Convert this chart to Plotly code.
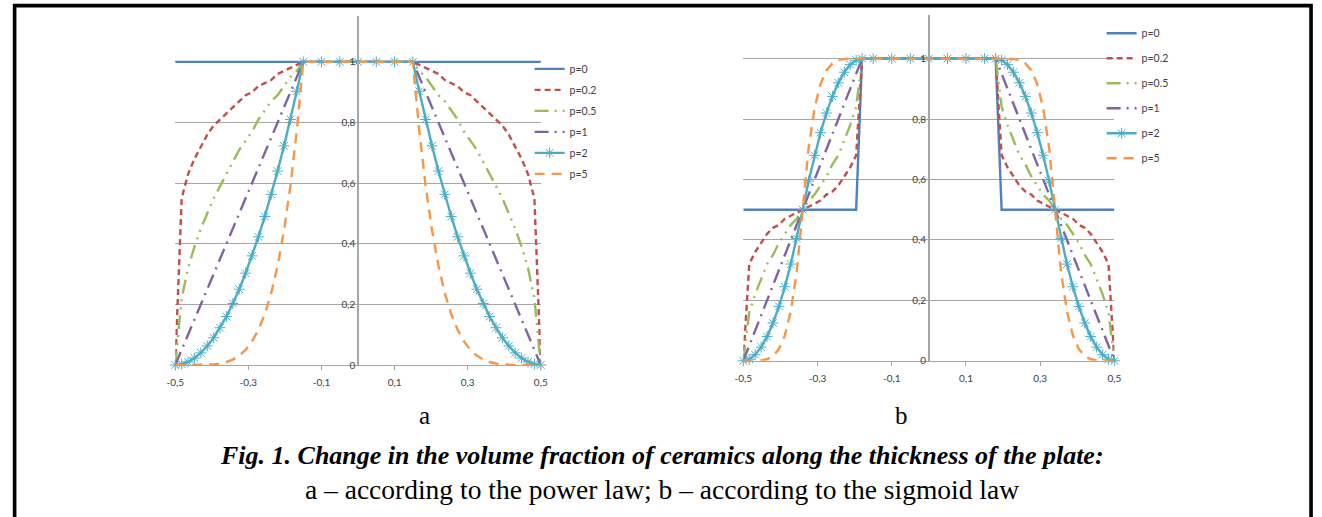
import plotly.graph_objects as go

# ---------------- data ----------------
series_names = ["p=0", "p=0.2", "p=0.5", "p=1", "p=2", "p=5"]

x_ticks = [-0.5, -0.3, -0.1, 0.1, 0.3, 0.5]
x_ticktext = ["-0,5", "-0,3", "-0,1", "0,1", "0,3", "0,5"]
y_ticks = [0, 0.2, 0.4, 0.6, 0.8, 1]
y_ticktext = ["0", "0,2", "0,4", "0,6", "0,8", "1"]

# panel a (power law)
x_a = [-0.5, -0.4825, -0.465, -0.4475, -0.43, -0.4125, -0.395, -0.3775, -0.36, -0.3425,
       -0.325, -0.3075, -0.29, -0.2725, -0.255, -0.2375, -0.22, -0.2025, -0.185, -0.1675,
       -0.15, -0.1, -0.05, 0, 0.05, 0.1,
       0.15, 0.1675, 0.185, 0.2025, 0.22, 0.2375, 0.255, 0.2725, 0.29, 0.3075,
       0.325, 0.3425, 0.36, 0.3775, 0.395, 0.4125, 0.43, 0.4475, 0.465, 0.4825, 0.5]
x_a_p0 = [-0.5, 0.5]
a_p0 = [1, 1]
a_p02 = [0, 0.55, 0.63, 0.68, 0.72, 0.76, 0.79, 0.81, 0.83, 0.85, 0.87, 0.89, 0.90, 0.92, 0.93,
         0.94, 0.96, 0.97, 0.98, 0.99, 1,
         1, 1, 1, 1, 1,
         1, 0.99, 0.98, 0.97, 0.96, 0.94, 0.93, 0.92, 0.90, 0.89, 0.87, 0.85, 0.83, 0.81, 0.79,
         0.76, 0.72, 0.68, 0.63, 0.55, 0]
a_p05 = [0, 0.22, 0.32, 0.39, 0.45, 0.50, 0.55, 0.59, 0.63, 0.67, 0.71, 0.74, 0.77, 0.81, 0.84,
         0.87, 0.89, 0.92, 0.95, 0.97, 1,
         1, 1, 1, 1, 1,
         1, 0.97, 0.95, 0.92, 0.89, 0.87, 0.84, 0.81, 0.77, 0.74, 0.71, 0.67, 0.63, 0.59, 0.55,
         0.50, 0.45, 0.39, 0.32, 0.22, 0]
a_p1 = [0, 0.05, 0.10, 0.15, 0.20, 0.25, 0.30, 0.35, 0.40, 0.45, 0.50, 0.55, 0.60, 0.65, 0.70,
        0.75, 0.80, 0.85, 0.90, 0.95, 1,
        1, 1, 1, 1, 1,
        1, 0.95, 0.90, 0.85, 0.80, 0.75, 0.70, 0.65, 0.60, 0.55, 0.50, 0.45, 0.40, 0.35, 0.30,
        0.25, 0.20, 0.15, 0.10, 0.05, 0]
a_p2 = [0, 0.003, 0.01, 0.023, 0.04, 0.063, 0.09, 0.123, 0.16, 0.203, 0.25, 0.303, 0.36, 0.423,
        0.49, 0.563, 0.64, 0.723, 0.81, 0.903, 1,
        1, 1, 1, 1, 1,
        1, 0.903, 0.81, 0.723, 0.64, 0.563, 0.49, 0.423, 0.36, 0.303, 0.25, 0.203, 0.16, 0.123,
        0.09, 0.063, 0.04, 0.023, 0.01, 0.003, 0]
a_p5 = [0, 0, 0, 0, 0, 0.001, 0.002, 0.005, 0.01, 0.018, 0.031, 0.05, 0.078, 0.116, 0.168,
        0.237, 0.328, 0.444, 0.59, 0.774, 1,
        1, 1, 1, 1, 1,
        1, 0.774, 0.59, 0.444, 0.328, 0.237, 0.168, 0.116, 0.078, 0.05, 0.031, 0.018, 0.01,
        0.005, 0.002, 0.001, 0, 0, 0, 0, 0]

# panel b (sigmoid law)
x_b = [-0.5, -0.484, -0.468, -0.452, -0.436, -0.42, -0.404, -0.388, -0.372, -0.356, -0.34,
       -0.324, -0.308, -0.292, -0.276, -0.26, -0.244, -0.228, -0.212, -0.196, -0.18,
       -0.15, -0.1, -0.05, 0, 0.05, 0.1, 0.15,
       0.18, 0.196, 0.212, 0.228, 0.244, 0.26, 0.276, 0.292, 0.308, 0.324, 0.34,
       0.356, 0.372, 0.388, 0.404, 0.42, 0.436, 0.452, 0.468, 0.484, 0.5]
b_p0 = [0.5, 0.5, 0.5, 0.5, 0.5, 0.5, 0.5, 0.5, 0.5, 0.5, 0.5, 0.5, 0.5, 0.5, 0.5, 0.5, 0.5,
        0.5, 0.5, 0.5, 1,
        1, 1, 1, 1, 1, 1, 1,
        1, 0.5, 0.5, 0.5, 0.5, 0.5, 0.5, 0.5, 0.5, 0.5, 0.5, 0.5, 0.5, 0.5, 0.5, 0.5, 0.5,
        0.5, 0.5, 0.5, 0.5, 0.5]
b_p02 = [0, 0.32, 0.36, 0.39, 0.42, 0.44, 0.45, 0.47, 0.48, 0.49, 0.5, 0.51, 0.52, 0.53, 0.55,
         0.56, 0.58, 0.61, 0.64, 0.68, 1,
         1, 1, 1, 1, 1, 1, 1,
         1, 0.68, 0.64, 0.61, 0.58, 0.56, 0.55, 0.53, 0.52, 0.51, 0.5, 0.49, 0.48, 0.47, 0.45,
         0.44, 0.42, 0.39, 0.36, 0.32, 0]
b_p05 = [0, 0.16, 0.22, 0.27, 0.32, 0.35, 0.39, 0.42, 0.45, 0.47, 0.5, 0.53, 0.55, 0.58, 0.61,
         0.65, 0.68, 0.73, 0.78, 0.84, 1,
         1, 1, 1, 1, 1, 1, 1,
         1, 0.84, 0.78, 0.73, 0.68, 0.65, 0.61, 0.58, 0.55, 0.53, 0.5, 0.47, 0.45, 0.42, 0.39,
         0.35, 0.32, 0.27, 0.22, 0.16, 0]
b_p1 = [0, 0.05, 0.10, 0.15, 0.20, 0.25, 0.30, 0.35, 0.40, 0.45, 0.50, 0.55, 0.60, 0.65, 0.70,
        0.75, 0.80, 0.85, 0.90, 0.95, 1,
        1, 1, 1, 1, 1, 1, 1,
        1, 0.95, 0.90, 0.85, 0.80, 0.75, 0.70, 0.65, 0.60, 0.55, 0.50, 0.45, 0.40, 0.35, 0.30,
        0.25, 0.20, 0.15, 0.10, 0.05, 0]
b_p2 = [0, 0.005, 0.02, 0.045, 0.08, 0.125, 0.18, 0.245, 0.32, 0.405, 0.5, 0.595, 0.68, 0.755,
        0.82, 0.875, 0.92, 0.955, 0.98, 0.995, 1,
        1, 1, 1, 1, 1, 1, 1,
        1, 0.995, 0.98, 0.955, 0.92, 0.875, 0.82, 0.755, 0.68, 0.595, 0.5, 0.405, 0.32, 0.245,
        0.18, 0.125, 0.08, 0.045, 0.02, 0.005, 0]
b_p5 = [0, 0, 0, 0.001, 0.005, 0.016, 0.039, 0.084, 0.164, 0.295, 0.5, 0.705, 0.836, 0.916,
        0.961, 0.984, 0.995, 0.999, 1, 1, 1,
        1, 1, 1, 1, 1, 1, 1,
        1, 1, 1, 0.999, 0.995, 0.984, 0.961, 0.916, 0.836, 0.705, 0.5, 0.295, 0.164, 0.084,
        0.039, 0.016, 0.005, 0.001, 0, 0, 0]

caption_line1 = "Fig. 1. Change in the volume fraction of ceramics along the thickness of the plate:"
caption_line2 = "a \u2013 according to the power law; b \u2013 according to the sigmoid law"

# ---------------- styles ----------------
colors = ["#4F81BD", "#C0504D", "#9BBB59", "#8064A2", "#4BACC6", "#F79646"]
dashes = ["solid", "6px,4px", "14px,6px,2px,6px,2px,6px", "14px,6px,2px,6px", "solid", "10px,7px"]
W, H = 1322, 517

fig = go.Figure()

panel_a = [(x_a_p0, a_p0), (x_a, a_p02), (x_a, a_p05), (x_a, a_p1), (x_a, a_p2), (x_a, a_p5)]
panel_b = [(x_b, b_p0), (x_b, b_p02), (x_b, b_p05), (x_b, b_p1), (x_b, b_p2), (x_b, b_p5)]


def add_traces(data, xa, ya, legend):
    for i, (xs, ys) in enumerate(data):
        is_marker = series_names[i] == "p=2"
        fig.add_trace(go.Scatter(
            x=xs, y=ys, name=series_names[i],
            xaxis=xa, yaxis=ya, legend=legend, legendgroup=legend + str(i),
            mode="lines+markers" if is_marker else "lines",
            line=dict(color=colors[i], width=2.4, dash=dashes[i]),
            marker=dict(symbol="asterisk-open", size=9, color=colors[i],
                        line=dict(color=colors[i], width=1)) if is_marker else None,
            cliponaxis=False,
        ))


add_traces(panel_a, "x", "y", "legend")
add_traces(panel_b, "x2", "y2", "legend2")

tick_font = dict(family="Lato, Carlito, sans-serif", size=10, color="#404040")
axis_gray = "#a6a6a6"


def xaxis_cfg(domain, anchor):
    return dict(domain=domain, range=[-0.5, 0.5], anchor=anchor, tickvals=x_ticks,
                ticktext=x_ticktext, showgrid=False, zeroline=False, showline=True,
                linecolor=axis_gray, linewidth=1, ticks="outside", ticklen=4,
                tickcolor=axis_gray, tickfont=tick_font, ticklabelstandoff=4, fixedrange=True)


def yaxis_cfg(domain, top, pos):
    return dict(domain=domain, range=[0, top], anchor="free", position=pos,
                tickvals=y_ticks, ticktext=y_ticktext, showgrid=True, gridcolor=axis_gray,
                gridwidth=1, zeroline=False, showline=True, linecolor=axis_gray, linewidth=1.5,
                ticks="", tickfont=tick_font, fixedrange=True)


legend_common = dict(font=dict(family="Lato, Carlito, sans-serif", size=10.5, color="#404040"),
                     bgcolor="rgba(0,0,0,0)", borderwidth=0, xanchor="left", yanchor="top",
                     itemwidth=30)

fig.update_layout(
    width=W, height=H, autosize=False,
    margin=dict(l=0, r=0, t=0, b=0),
    paper_bgcolor="white", plot_bgcolor="rgba(0,0,0,0)",
    showlegend=True,
    xaxis=xaxis_cfg([168.3 / W, 538.3 / W], "y"),
    yaxis=yaxis_cfg([1 - 369.3 / H, 1 - 16 / H], 1.152, 353.3 / W),
    xaxis2=xaxis_cfg([743.3 / W, 1119 / W], "y2"),
    yaxis2=yaxis_cfg([1 - 365 / H, 1 - 15 / H], 1.145, 931.2 / W),
    legend=dict(x=527 / W, y=1 - 55 / H, tracegroupgap=2, **legend_common),
    legend2=dict(x=1106 / W, y=1 - 19 / H, tracegroupgap=6, **legend_common),
    shapes=[dict(type="rect", xref="paper", yref="paper",
                 x0=5.7 / W, x1=1318 / W, y0=-0.1, y1=1 - 5.7 / H,
                 line=dict(color="black", width=3.6), fillcolor="rgba(0,0,0,0)")],
)

serif = "Liberation Serif, Times New Roman, serif"
fig.add_annotation(text="a", x=421 / W, y=1 - 420 / H, xref="paper", yref="paper",
                   showarrow=False, font=dict(family=serif, size=25, color="black"),
                   xanchor="center", yanchor="middle")
fig.add_annotation(text="b", x=903 / W, y=1 - 420 / H, xref="paper", yref="paper",
                   showarrow=False, font=dict(family=serif, size=25, color="black"),
                   xanchor="center", yanchor="middle")
fig.add_annotation(text="<b><i>" + caption_line1 + "</i></b>", x=661 / W, y=1 - 461 / H,
                   xref="paper", yref="paper", showarrow=False,
                   font=dict(family=serif, size=26, color="black"),
                   xanchor="center", yanchor="middle")
fig.add_annotation(text=caption_line2, x=661 / W, y=1 - 495 / H,
                   xref="paper", yref="paper", showarrow=False,
                   font=dict(family=serif, size=27.5, color="black"),
                   xanchor="center", yanchor="middle")

fig.write_html("out.html")
